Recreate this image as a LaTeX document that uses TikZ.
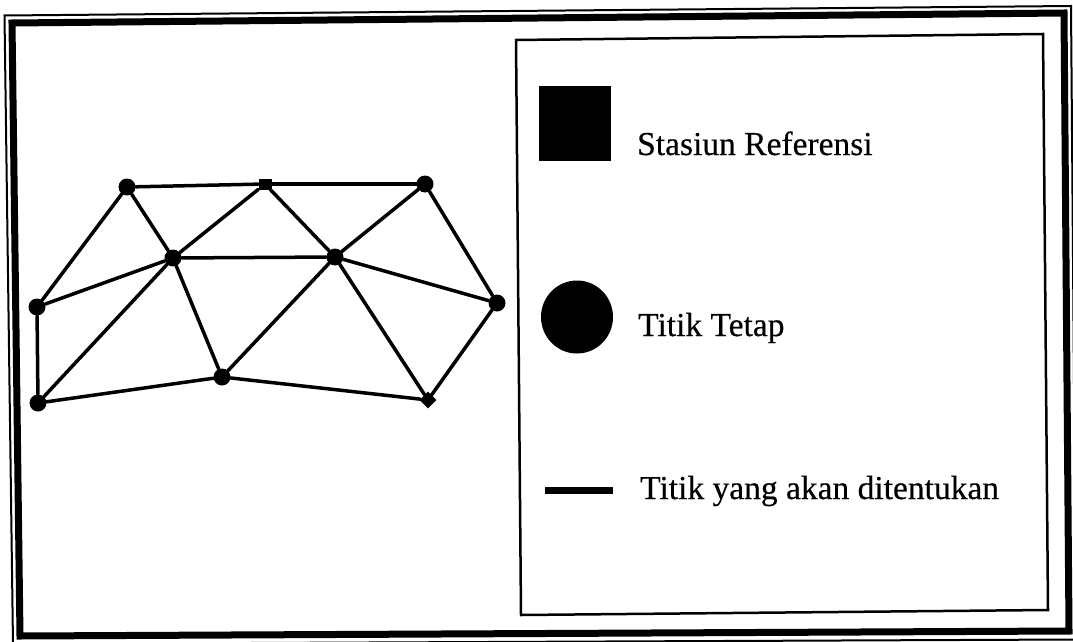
\documentclass[tikz,border=0pt]{standalone}
\usepackage{fontspec}
\setmainfont{Liberation Serif}[FakeBold=0.4]
\usetikzlibrary{shapes.geometric}
\begin{document}
\begin{tikzpicture}[x=1pt,y=-1pt,
  pt/.style={circle,fill=black,draw=none,minimum size=17,inner sep=0pt},
  refpt/.style={rectangle,fill=black,draw=none,minimum width=13,minimum height=11,inner sep=0pt},
  newpt/.style={rectangle,fill=black,draw=none,minimum size=12,inner sep=0pt,rotate=45},
  edge/.style={line width=3.5,line cap=round},
  lbl/.style={anchor=base west,inner sep=0pt,font=\fontsize{33.5}{40}\selectfont}]
\useasboundingbox (0,0) rectangle (1073,642);
\fill[white] (0,0) rectangle (1073,642);
% outer frames
\draw[line width=2] (4.5,15.5) -- (1071,6) -- (1076,639.5) -- (13,644) -- cycle;
\draw[line width=7] (12,23) -- (1064,13) -- (1069,631) -- (20,636) -- cycle;
% legend box
\draw[line width=2.5] (516,40) -- (1043,34) -- (1048,610) -- (521,615) -- cycle;
% network nodes
\node[pt] (A) at (127,187) {};
\node[refpt] (B) at (265,184) {};
\node[pt] (C) at (425,184) {};
\node[pt] (D) at (173,258) {};
\node[pt] (E) at (335,257) {};
\node[pt] (F) at (37,307) {};
\node[pt] (G) at (497,303) {};
\node[pt] (H) at (222,377) {};
\node[pt] (I) at (38,403) {};
\node[newpt] (J) at (428,400) {};
% edges
\draw[edge] (A) -- (B);
\draw[edge] (B) -- (C);
\draw[edge] (A) -- (F);
\draw[edge] (A) -- (D);
\draw[edge] (B) -- (D);
\draw[edge] (B) -- (E);
\draw[edge] (C) -- (E);
\draw[edge] (C) -- (G);
\draw[edge] (D) -- (E);
\draw[edge] (D) -- (F);
\draw[edge] (D) -- (I);
\draw[edge] (D) -- (H);
\draw[edge] (E) -- (H);
\draw[edge] (E) -- (G);
\draw[edge] (E) -- (J);
\draw[edge] (F) -- (I);
\draw[edge] (I) -- (H);
\draw[edge] (H) -- (J);
\draw[edge] (G) -- (J);
% legend
\node[rectangle,fill=black,minimum width=72,minimum height=75,inner sep=0pt] (ls) at (575,123) {};
\node[ellipse,fill=black,minimum width=72,minimum height=73,inner sep=0pt] (lc) at (577,317) {};
\coordinate (l1) at (545,490);
\coordinate (l2) at (613,490);
\draw[line width=7] (l1) -- (l2);
\node[lbl] (t1) at (637,155) {Stasiun Referensi};
\node[lbl] (t2) at (638,336) {Titik Tetap};
\node[lbl] (t3) at (640,499) {Titik yang akan ditentukan};
\end{tikzpicture}
\end{document}
